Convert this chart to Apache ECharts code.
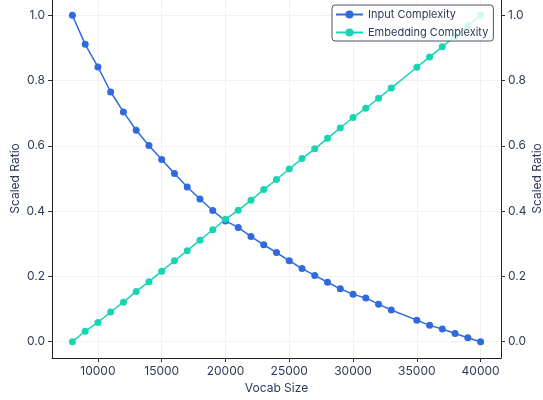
<!DOCTYPE html>
<html><head><meta charset="utf-8">
<script src="https://cdn.jsdelivr.net/npm/echarts@6/dist/echarts.min.js"></script>
<style>html,body{margin:0;padding:0;background:#fff}#c{width:543px;height:400px}</style>
</head><body><div id="c"></div>
<script>
const vocabSizes = [8000,9000,10000,11000,12000,13000,14000,15000,16000,17000,18000,19000,20000,21000,22000,23000,24000,25000,26000,27000,28000,29000,30000,31000,32000,33000,35000,36000,37000,38000,39000,40000];
const inputComplexity = [1.0,0.911,0.842,0.765,0.704,0.648,0.601,0.558,0.515,0.474,0.437,0.402,0.370,0.350,0.322,0.297,0.273,0.248,0.224,0.203,0.182,0.162,0.145,0.134,0.115,0.097,0.066,0.050,0.039,0.025,0.012,0.0];
const embeddingComplexity = [0.0,0.032,0.059,0.091,0.121,0.154,0.184,0.216,0.248,0.279,0.311,0.343,0.375,0.403,0.433,0.466,0.497,0.529,0.561,0.591,0.623,0.655,0.687,0.715,0.746,0.777,0.841,0.872,0.904,0.936,0.968,1.0];
const xTicks = [10000,15000,20000,25000,30000,35000,40000];
const yTicks = [0,0.2,0.4,0.6,0.8,1.0];

const FONT = 'Inter';
const TXT = '#2e3a59';
const chart = echarts.init(document.getElementById('c'));
const yAxisBase = (pos) => ({
  type: 'value', position: pos, min: -0.05, max: 1.05,
  name: 'Scaled Ratio', nameLocation: 'middle', nameGap: pos === 'left' ? 31 : 30,
  nameMoveOverlap: false,
  nameTextStyle: {color: TXT, fontFamily: FONT, fontSize: 12},
  axisLine: {show: true, lineStyle: {color: '#1f1f1f', width: 1}},
  axisTick: {show: true, length: 4, lineStyle: {color: '#333'}, customValues: yTicks},
  axisLabel: {color: TXT, fontFamily: FONT, fontSize: 12, margin: 7, customValues: yTicks,
    formatter: v => v.toFixed(1)},
  splitLine: {show: pos === 'left', lineStyle: {color: '#eef2f6', width: 1}}
});
chart.setOption({
  animation: false,
  grid: {left: 52, right: 42, top: -1, bottom: 42, containLabel: false, outerBoundsMode: 'none'},
  legend: {
    orient: 'vertical', left: 332, top: 5, z: 20,
    backgroundColor: 'rgba(255,255,255,0.8)',
    borderColor: '#4a5266', borderWidth: 1, borderRadius: 3,
    padding: [4, 5, 3, 3], itemGap: 7, itemWidth: 27, itemHeight: 10,
    textStyle: {color: TXT, fontFamily: FONT, fontSize: 11},
    data: ['Input Complexity', 'Embedding Complexity']
  },
  xAxis: {
    type: 'value', min: 6400, max: 41600,
    name: 'Vocab Size', nameLocation: 'middle', nameGap: 24, nameMoveOverlap: false,
    nameTextStyle: {color: TXT, fontFamily: FONT, fontSize: 12},
    axisLine: {show: true, onZero: false, lineStyle: {color: '#1f1f1f', width: 1}},
    axisTick: {show: true, length: 4, lineStyle: {color: '#333'}, customValues: xTicks},
    axisLabel: {color: TXT, fontFamily: FONT, fontSize: 12, margin: 7, customValues: xTicks,
      formatter: v => String(v)},
    splitLine: {show: true, lineStyle: {color: '#eef2f6', width: 1}}
  },
  yAxis: [yAxisBase('left'), yAxisBase('right')],
  series: [
    {name: 'Input Complexity', type: 'line', yAxisIndex: 0, z: 2,
     data: vocabSizes.map((x, i) => [x, inputComplexity[i]]),
     symbol: 'circle', symbolSize: 7, showSymbol: true,
     itemStyle: {color: '#2f6ae0'}, lineStyle: {color: '#2f6ae0', width: 1.5}},
    {name: 'Embedding Complexity', type: 'line', yAxisIndex: 0, z: 2,
     data: vocabSizes.map((x, i) => [x, embeddingComplexity[i]]),
     symbol: 'circle', symbolSize: 7, showSymbol: true,
     itemStyle: {color: '#17d4b2'}, lineStyle: {color: '#17d4b2', width: 1.5}}
  ]
});
</script></body></html>
